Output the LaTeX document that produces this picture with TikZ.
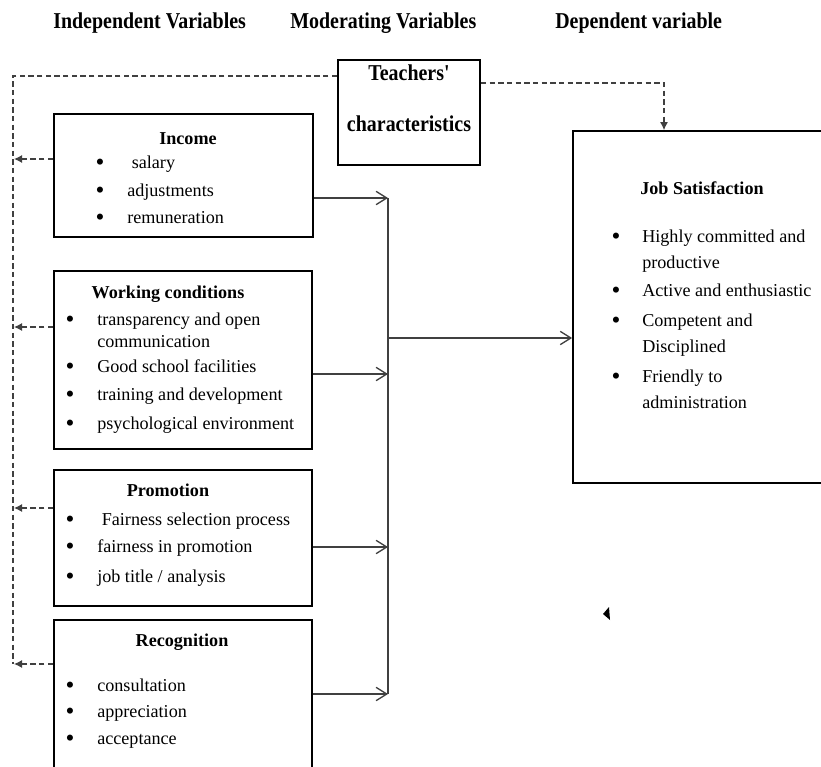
\documentclass[tikz,border=0pt]{standalone}
\usepackage{fontspec}
\setmainfont{Liberation Serif}
\usetikzlibrary{arrows.meta,fit}
\newcommand{\hdtxt}[1]{\scalebox{0.88}[1]{\fontsize{17}{20}\selectfont\bfseries #1}}
\begin{document}
\begin{tikzpicture}[x=0.75pt,y=-0.75pt,
  box/.style={draw=black, line width=1.3pt, inner sep=0pt},
  conn/.style={draw=black!75, line width=1.1pt},
  sarrow/.style={conn, -{Straight Barb[length=8pt,width=10pt,line width=1pt]}},
  dline/.style={draw=black!75, line width=0.9pt, dash pattern=on 4pt off 2.5pt},
  darrow/.style={dline, -{Latex[length=6pt,width=6pt]}},
  hd/.style={anchor=base west, inner sep=0pt},
  hdc/.style={anchor=base, inner sep=0pt},
  txt/.style={anchor=base west, inner sep=0pt, font=\fontsize{13.6}{16}\selectfont},
  ttl/.style={anchor=base, inner sep=0pt, font=\fontsize{13.6}{16}\selectfont\bfseries},
  bul/.style={anchor=base, inner sep=0pt, font=\fontsize{19}{19}\selectfont}
]
\useasboundingbox (0,0) rectangle (821,767);
\clip (0,0) rectangle (821,767);

% headers
\node[hd] (h1) at (53,29) {\hdtxt{Independent Variables}};
\node[hd] (h2) at (290,29) {\hdtxt{Moderating Variables}};
\node[hd] (h3) at (555,29) {\hdtxt{Dependent variable}};

% boxes
\node[box, fit={(338,60) (480,165)}] (tc) {};
\node[box, fit={(54,114) (313,237)}] (inc) {};
\node[box, fit={(54,271) (312,449)}] (wc) {};
\node[box, fit={(54,470) (312,606)}] (pro) {};
\node[box, fit={(54,620) (312,800)}] (rec) {};
\node[box, fit={(573,131) (870,483)}] (job) {};

% Teachers' characteristics
\node[hdc] (tc1) at (409,80) {\hdtxt{Teachers\textquotesingle}};
\node[hdc] (tc2) at (409,132) {\hdtxt{characteristics}};

% Income
\node[ttl] (i0) at (188,144) {Income};
\node[bul] (ib1) at (100,170) {•};
\node[txt] (i1) at (127,168) {\ salary};
\node[bul] (ib2) at (100,198) {•};
\node[txt] (i2) at (127,196) {adjustments};
\node[bul] (ib3) at (100,225) {•};
\node[txt] (i3) at (127,223) {remuneration};

% Working conditions
\node[ttl] (w0) at (168,298) {Working conditions};
\node[bul] (wb1) at (70,327) {•};
\node[txt] (w1) at (97,325) {transparency and open};
\node[txt] (w1b) at (97,347) {communication};
\node[bul] (wb2) at (70,374) {•};
\node[txt] (w2) at (97,372) {Good school facilities};
\node[bul] (wb3) at (70,402) {•};
\node[txt] (w3) at (97,400) {training and development};
\node[bul] (wb4) at (70,431) {•};
\node[txt] (w4) at (97,429) {psychological environment};

% Promotion
\node[ttl] (p0) at (168,496) {Promotion};
\node[bul] (pb1) at (70,527) {•};
\node[txt] (p1) at (97,525) {\ Fairness selection process};
\node[bul] (pb2) at (70,554) {•};
\node[txt] (p2) at (97,552) {fairness in promotion};
\node[bul] (pb3) at (70,584) {•};
\node[txt] (p3) at (97,582) {job title / analysis};

% Recognition
\node[ttl] (r0) at (182,646) {Recognition};
\node[bul] (rb1) at (70,693) {•};
\node[txt] (r1) at (97,691) {consultation};
\node[bul] (rb2) at (70,719) {•};
\node[txt] (r2) at (97,717) {appreciation};
\node[bul] (rb3) at (70,746) {•};
\node[txt] (r3) at (97,744) {acceptance};

% Job satisfaction
\node[txt, font=\fontsize{13.6}{16}\selectfont\bfseries] (j0) at (640,194) {Job Satisfaction};
\node[bul] (jb1) at (616,244) {•};
\node[txt] (j1) at (642,242) {Highly committed and};
\node[txt] (j1b) at (642,268) {productive};
\node[bul] (jb2) at (616,298) {•};
\node[txt] (j2) at (642,296) {Active and enthusiastic};
\node[bul] (jb3) at (616,328) {•};
\node[txt] (j3) at (642,326) {Competent and};
\node[txt] (j3b) at (642,352) {Disciplined};
\node[bul] (jb4) at (616,384) {•};
\node[txt] (j4) at (642,382) {Friendly to};
\node[txt] (j4b) at (642,408) {administration};

% moderating dashed connectors
\coordinate (lt) at (13,76);
\coordinate (lb) at (13,664);
\draw[dline] (tc.west |- 0,76) -- (lt) -- (lb);
\coordinate (rt) at (664,83);
\draw[darrow] (tc.east |- 0,83) -- (rt) -- (job.north -| rt);

\draw[darrow] (inc.west |- 0,159) -- (14,159);
\draw[darrow] (wc.west |- 0,327) -- (14,327);
\draw[darrow] (pro.west |- 0,508) -- (14,508);
\draw[darrow] (rec.west |- 0,664) -- (14,664);

% solid connectors
\coordinate (bt) at (388,198);
\coordinate (bb) at (388,694);
\draw[conn] (bt) -- (bb);
\draw[sarrow] (inc.east |- bt) -- (bt);
\draw[sarrow] (wc.east |- 0,374) -- (388,374);
\draw[sarrow] (pro.east |- 0,547) -- (388,547);
\draw[sarrow] (rec.east |- bb) -- (bb);
\draw[sarrow] (388,338) -- (job.west |- 0,338);

% stray arrowhead
\fill (603,614) -- (609,607) -- (610,620) -- cycle;
\end{tikzpicture}
\end{document}
